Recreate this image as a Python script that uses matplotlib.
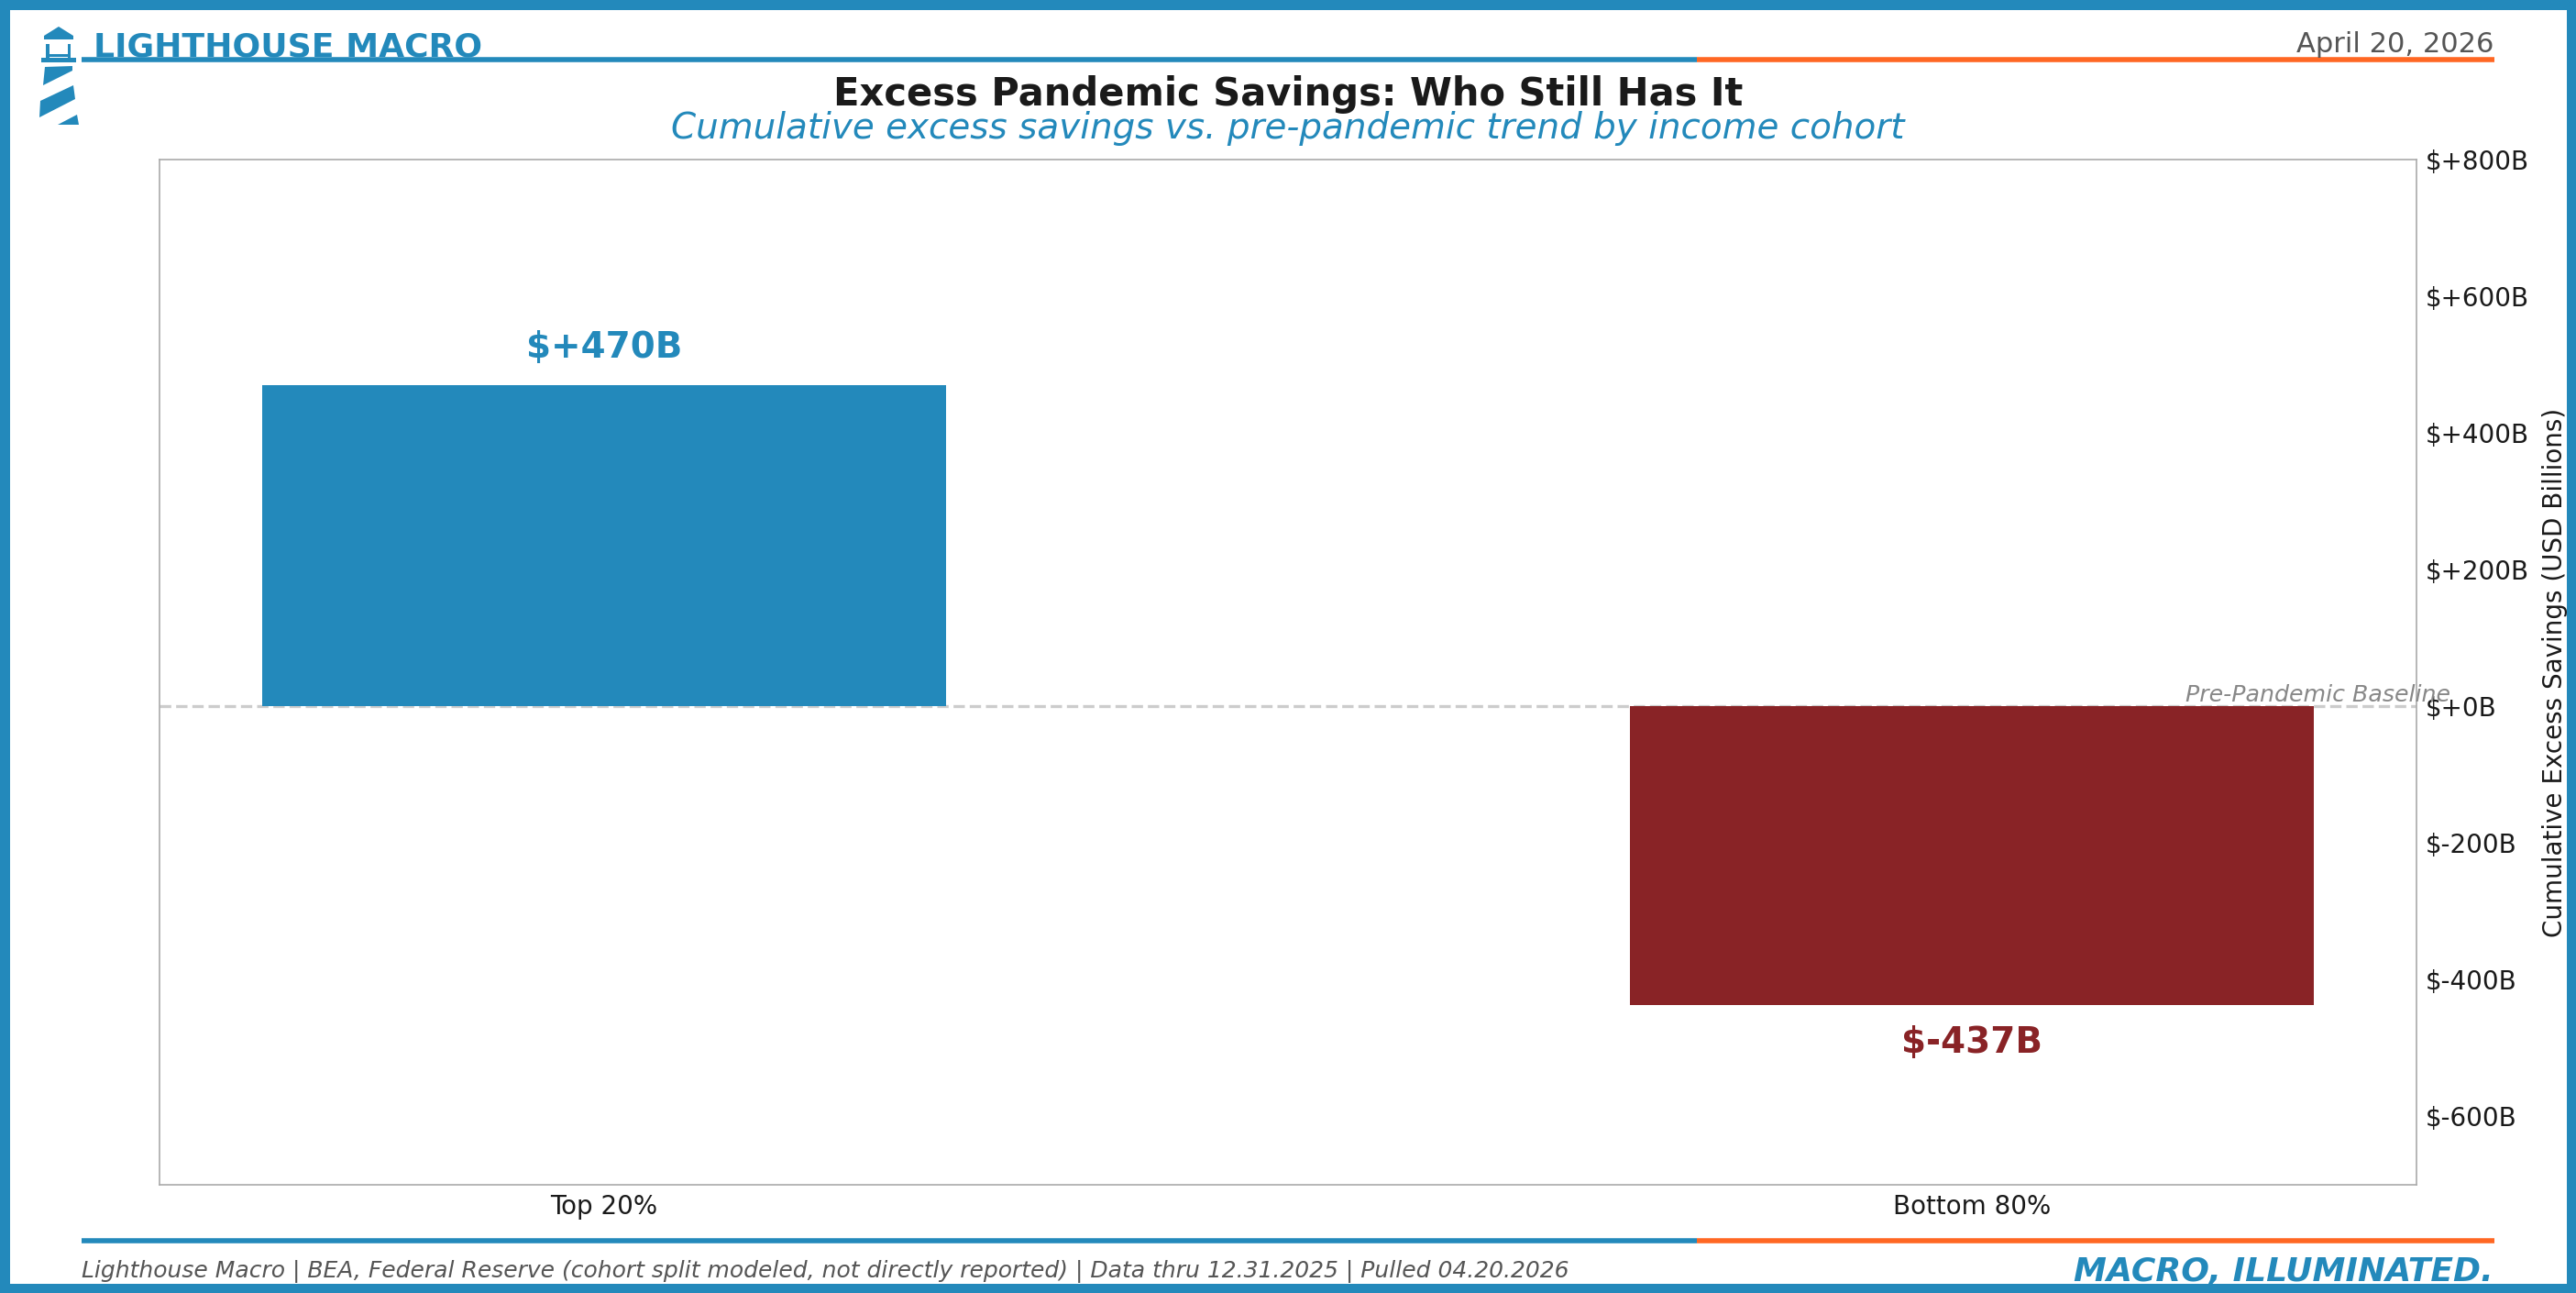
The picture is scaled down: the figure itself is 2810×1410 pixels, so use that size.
import matplotlib
matplotlib.use("Agg")
import matplotlib.pyplot as plt
from matplotlib.patches import Rectangle, Polygon

# Data
cohorts = ["Top 20%", "Bottom 80%"]
excess_savings = [470, -437]  # USD billions
yticks = [-600, -400, -200, 0, 200, 400, 600, 800]

BLUE = "#2389BB"
ORANGE = "#FF6723"
RED = "#892326"
W, H = 2810, 1410

fig = plt.figure(figsize=(W / 200, H / 200), dpi=200)


def px(x, y):
    """ pixel from top-left -> figure fraction """
    return x / W, 1 - y / H


# Frame
for (x0, y0, w, h) in [(0, 0, W, 11), (0, H - 10, W, 10), (0, 0, 11, H), (W - 10, 0, 10, H)]:
    fig.patches.append(Rectangle((x0 / W, 1 - (y0 + h) / H), w / W, h / H,
                                 transform=fig.transFigure, color=BLUE, lw=0, zorder=10))

# Lighthouse logo
logo = [
    [(64, 29), (48, 39), (48, 43), (80, 43), (80, 39)],
    [(50, 48), (54, 48), (54, 63), (50, 63)],
    [(74, 48), (77, 48), (77, 63), (74, 63)],
    [(50, 59), (77, 59), (77, 62), (50, 62)],
    [(45, 63), (83, 63), (83, 68), (45, 68)],
    [(49, 73), (79, 72), (79, 77), (47, 93)],
    [(44, 110), (80, 93), (82, 108), (43, 128)],
    [(63, 136), (84, 125), (86, 136)],
]
for pts in logo:
    fig.patches.append(Polygon([px(*p) for p in pts], closed=True,
                               transform=fig.transFigure, color=BLUE, lw=0))

# Header / footer lines
for yl in (65, 1353):
    fig.add_artist(plt.Line2D([89 / W, 1851 / W], [1 - yl / H] * 2, color=BLUE, lw=2,
                              transform=fig.transFigure, solid_capstyle="butt"))
    fig.add_artist(plt.Line2D([1851 / W, 2721 / W], [1 - yl / H] * 2, color=ORANGE, lw=2,
                              transform=fig.transFigure, solid_capstyle="butt"))

fig.text(102 / W, 1 - 62 / H, "LIGHTHOUSE MACRO", fontsize=13.0, fontweight="bold",
         color=BLUE, va="baseline")
fig.text(2720 / W, 1 - 57 / H, "April 20, 2026", fontsize=11.0, color="#555555",
         ha="right", va="baseline")
fig.text(0.5, 1 - 115 / H, "Excess Pandemic Savings: Who Still Has It", fontsize=15.0,
         fontweight="bold", color="#1a1a1a", ha="center", va="baseline")
fig.text(0.5, 1 - 151 / H, "Cumulative excess savings vs. pre-pandemic trend by income cohort",
         fontsize=14, style="italic", color=BLUE, ha="center", va="baseline")
fig.text(89 / W, 1 - 1393 / H,
         "Lighthouse Macro | BEA, Federal Reserve (cohort split modeled, not directly reported)"
         " | Data thru 12.31.2025 | Pulled 04.20.2026",
         fontsize=9, style="italic", color="#555555", va="baseline")
fig.text(2720 / W, 1 - 1397 / H, "MACRO, ILLUMINATED.", fontsize=13, fontweight="bold",
         style="italic", color=BLUE, ha="right", va="baseline")

# Chart
ax = fig.add_axes([174 / W, 1 - 1292 / H, (2636 - 174) / W, (1292 - 174) / H])
colors = [BLUE if v >= 0 else RED for v in excess_savings]
bars = ax.bar(range(len(cohorts)), excess_savings, width=0.5, color=colors)
ax.axhline(0, color="#cccccc", lw=1.2, ls="--", zorder=0)
ax.text(1.015, 0, "Pre-Pandemic Baseline", transform=ax.get_yaxis_transform(),
        ha="right", va="bottom", fontsize=9.1, style="italic", color="#888888")

for i, v in enumerate(excess_savings):
    if v >= 0:
        ax.text(i, v + 30, f"${v:+.0f}B", ha="center", va="bottom", fontsize=14,
                fontweight="bold", color=colors[i])
    else:
        ax.text(i, v - 30, f"${v:+.0f}B", ha="center", va="top", fontsize=14,
                fontweight="bold", color=colors[i])

ax.set_ylim(-700, 800)
ax.set_yticks(yticks)
ax.set_yticklabels([f"${t:+.0f}B" for t in yticks])
ax.set_xticks(range(len(cohorts)))
ax.set_xticklabels(cohorts)
ax.yaxis.tick_right()
ax.yaxis.set_label_position("right")
ax.set_ylabel("Cumulative Excess Savings (USD Billions)", fontsize=10, labelpad=5,
              color="#1a1a1a")
ax.tick_params(length=0, labelsize=10, labelcolor="#1a1a1a")
for s in ax.spines.values():
    s.set_color("#aaaaaa")
    s.set_linewidth(0.6)

fig.savefig("out.png", dpi=200)
